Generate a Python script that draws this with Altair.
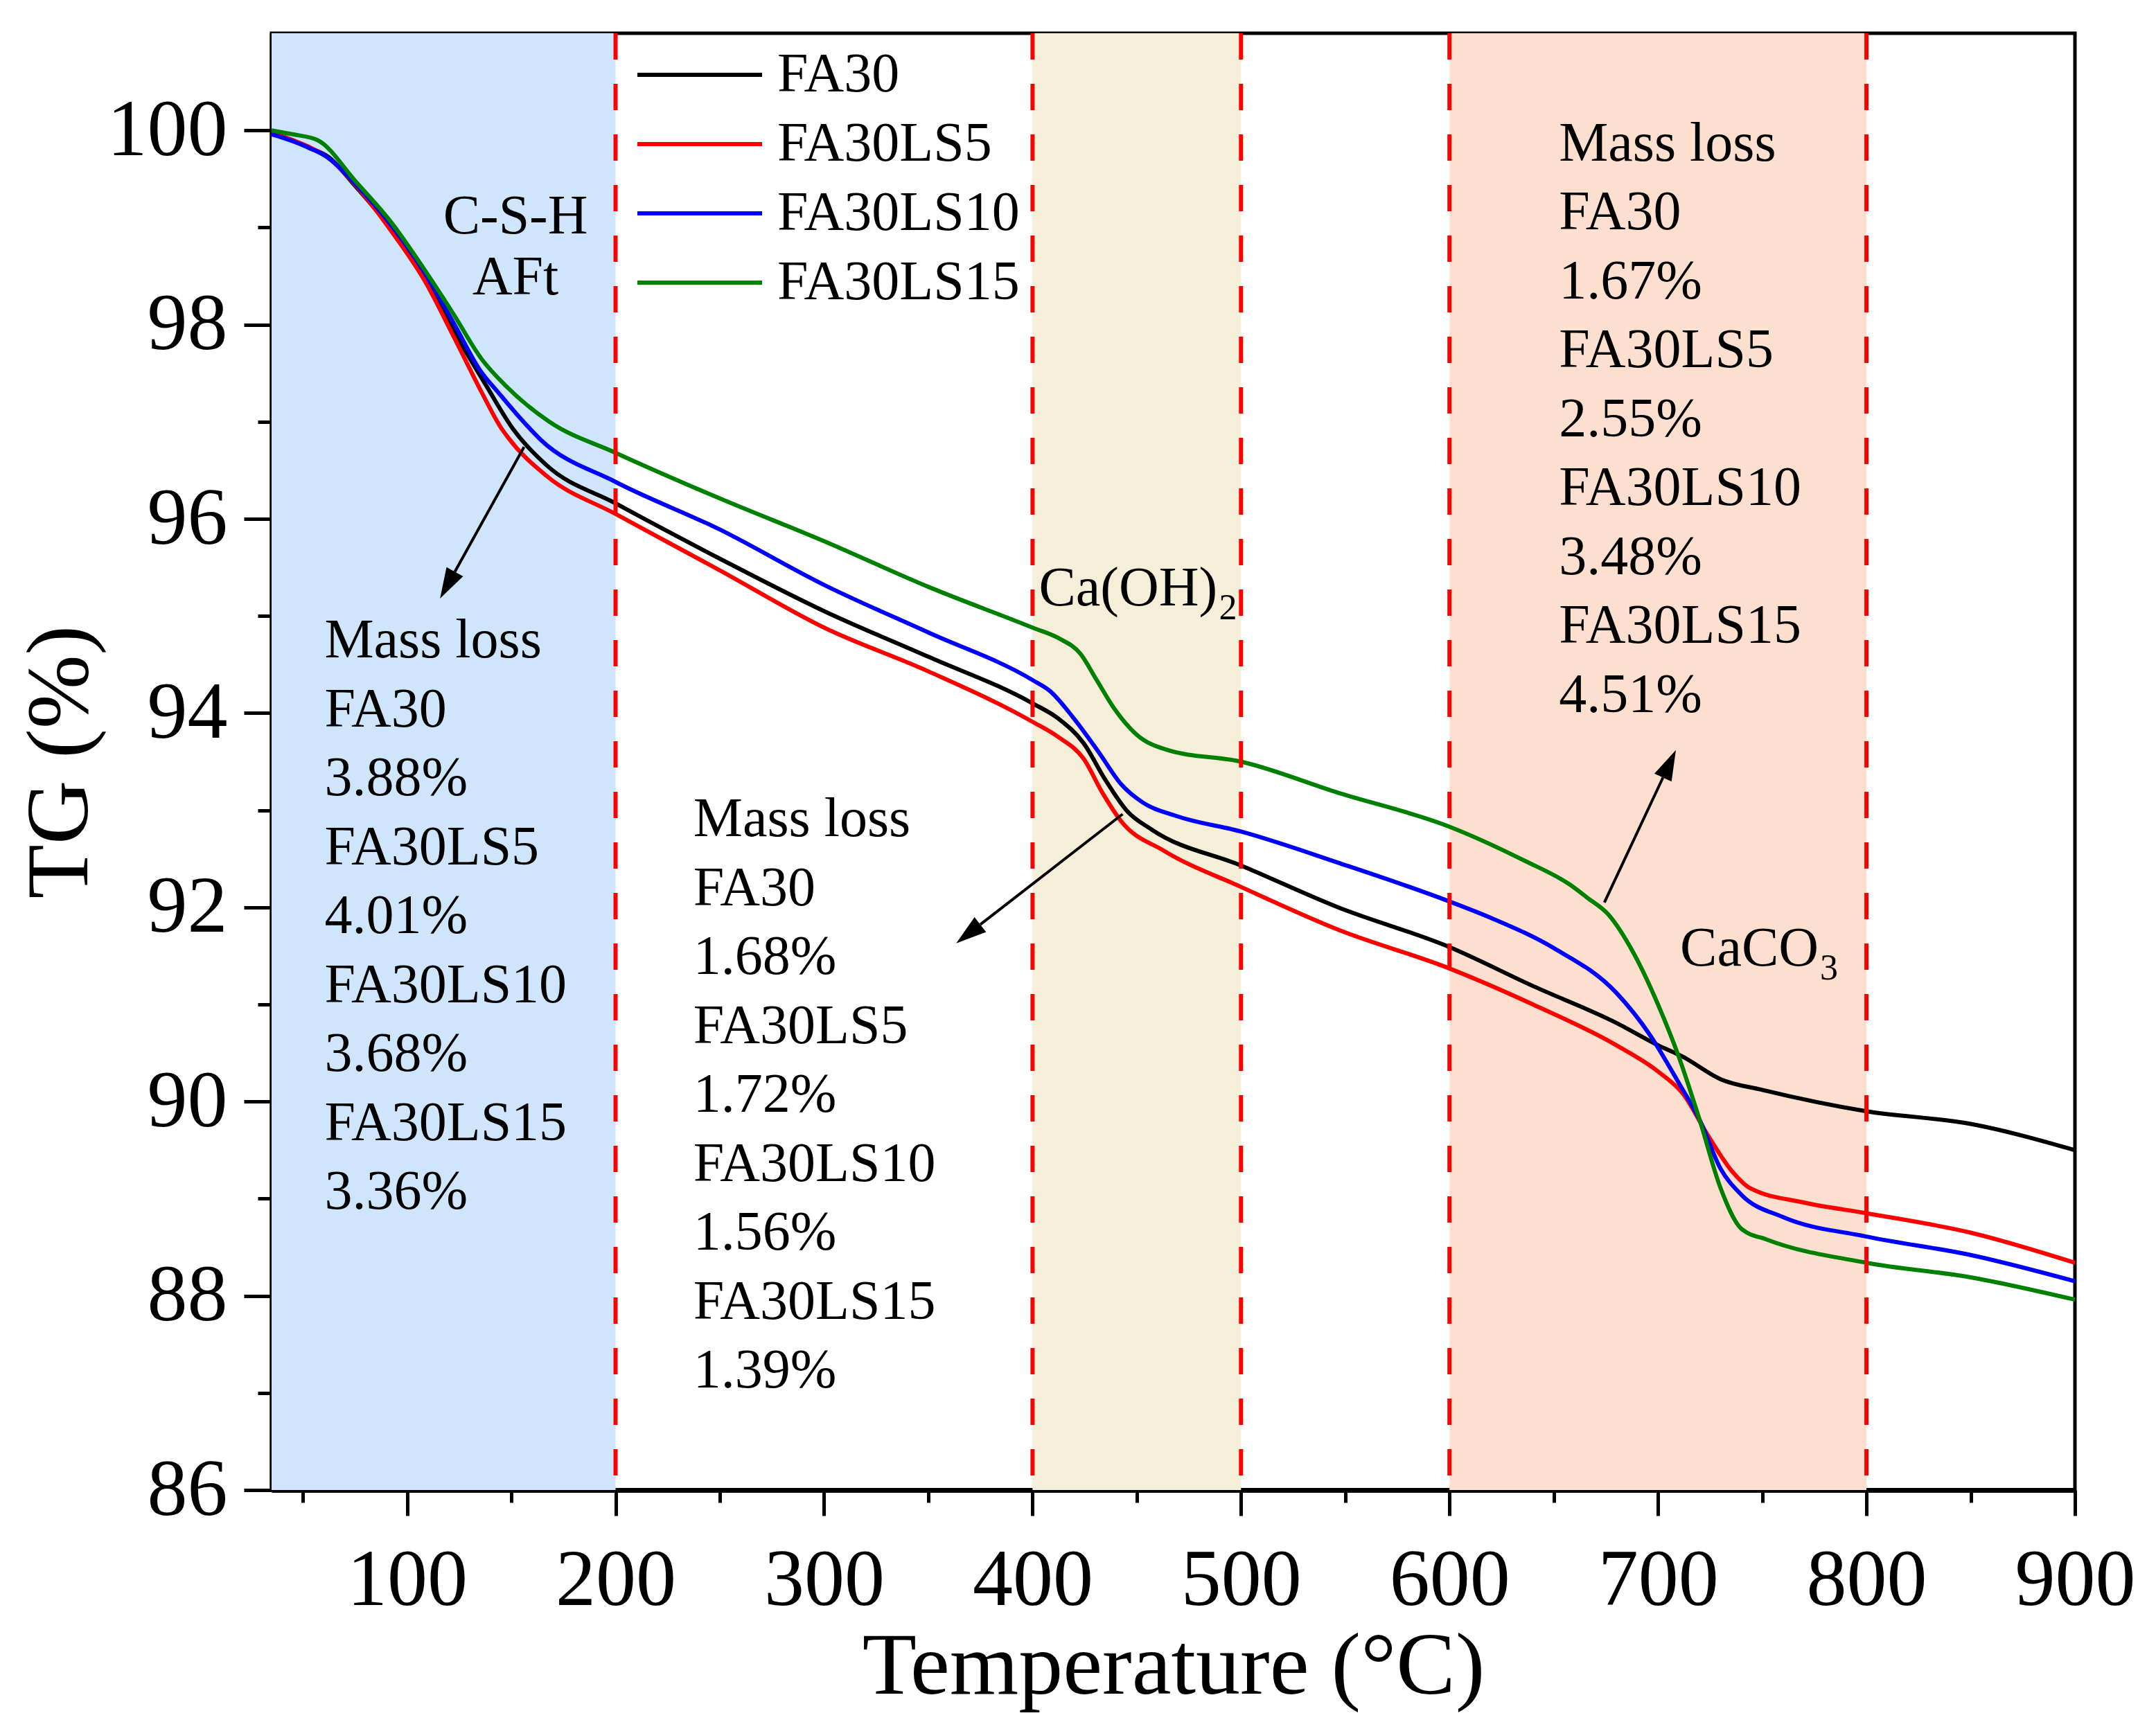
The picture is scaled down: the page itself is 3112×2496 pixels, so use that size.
import math
import altair as alt
import pandas as pd

# ---------------- data ----------------
series_names = ["FA30", "FA30LS5", "FA30LS10", "FA30LS15"]
series_colors = ["#000000", "#ff0000", "#0000ff", "#008000"]

fa30_T = [35, 45, 53, 62, 75, 92.5, 108, 122.5, 138, 151, 167, 200, 250, 300, 350, 400,
          412.6, 424.5, 435, 445.4, 457.2, 500, 546.5, 600, 640, 680, 700, 712, 730, 750, 800, 850, 900]
fa30_tg = [99.97, 99.9, 99.82, 99.73, 99.43, 98.98, 98.49, 97.93, 97.37, 96.92, 96.55, 96.16, 95.59,
           95.05, 94.58, 94.10, 93.94, 93.69, 93.31, 92.99, 92.80, 92.43, 92.0, 91.59, 91.19,
           90.81, 90.58, 90.46, 90.23, 90.12, 89.90, 89.77, 89.5]

ls5_T = [35, 45, 53, 62, 75.5, 92.5, 108.2, 122.5, 135.6, 144.7, 148.7, 167, 200, 250, 300, 350,
         400, 412.6, 424.5, 433.5, 442.4, 463.2, 500, 546.5, 600, 640, 680, 700, 712, 724, 736, 744,
         770, 800, 850, 900]
ls5_tg = [99.97, 99.9, 99.83, 99.72, 99.43, 98.96, 98.46, 97.87, 97.31, 96.95, 96.83, 96.44, 96.05,
          95.47, 94.88, 94.43, 93.91, 93.75, 93.53, 93.18, 92.89, 92.58, 92.21, 91.77, 91.37,
          91.0, 90.58, 90.31, 90.08, 89.65, 89.27, 89.11, 88.96, 88.85, 88.65, 88.34]

ls10_T = [35, 45, 53, 62, 75.5, 92.5, 108.2, 122.5, 135.6, 143.4, 151.3, 164.3, 200, 250, 300, 350,
          400, 408.2, 420, 432, 442.4, 452.8, 469, 500, 546.5, 600, 620, 650, 680, 696, 710, 720,
          730, 740, 760, 800, 850, 900]
ls10_tg = [99.96, 99.89, 99.82, 99.72, 99.44, 99.02, 98.54, 98.01, 97.51, 97.31, 97.11, 96.81, 96.38,
           95.89, 95.32, 94.83, 94.34, 94.23, 93.94, 93.59, 93.27, 93.08, 92.94, 92.78, 92.46,
           92.06, 91.89, 91.58, 91.12, 90.69, 90.19, 89.81, 89.31, 89.04, 88.81, 88.61, 88.42, 88.15]

ls15_T = [35, 45, 57, 75.5, 92.5, 108.2, 122.5, 135.6, 147.3, 168.2, 200, 250, 300, 350, 400,
          412.6, 423, 430.5, 439.4, 449.8, 464.7, 500, 546.5, 600, 636, 658, 666, 676, 688, 700, 710, 720,
          730, 740, 752, 800, 850, 900]
ls15_tg = [100.0, 99.96, 99.90, 99.47, 99.05, 98.57, 98.10, 97.65, 97.37, 97.0, 96.68, 96.21, 95.77,
           95.30, 94.88, 94.77, 94.61, 94.35, 94.04, 93.78, 93.62, 93.50, 93.18, 92.83, 92.48,
           92.23, 92.10, 91.93, 91.54, 91.0, 90.46, 89.81, 89.11, 88.69, 88.58, 88.34, 88.19, 87.96]

region_start = [35, 400, 600]
region_end = [200, 500, 800]
region_colors = ["#cfe5fc", "#f5eed8", "#fddfd0"]
boundary_T = [200, 400, 500, 600, 800]

x_tick_values = list(range(50, 901, 50))
y_tick_values = list(range(86, 101, 1))

left_block = ["Mass loss", "FA30", "3.88%", "FA30LS5", "4.01%", "FA30LS10", "3.68%", "FA30LS15", "3.36%"]
mid_block = ["Mass loss", "FA30", "1.68%", "FA30LS5", "1.72%", "FA30LS10", "1.56%", "FA30LS15", "1.39%"]
right_block = ["Mass loss", "FA30", "1.67%", "FA30LS5", "2.55%", "FA30LS10", "3.48%", "FA30LS15", "4.51%"]
block_T = [60.4, 237.3, 652.5]
block_TG = [94.57, 92.73, 99.69]

phase_labels = ["C-S-H\nAFt"]
phase_T = [152.0]
phase_TG = [98.94]
chem_main = ["Ca(OH)", "CaCO"]
chem_sub = ["2", "3"]
chem_T = [403.0, 710.6]
chem_TG = [95.11, 91.40]
chem_sub_dx = [260, 202]

arrow_tail_T = [156.1, 443.2, 674.3]
arrow_tail_TG = [96.74, 92.96, 92.05]
arrow_tip_T = [115.8, 363.4, 708.6]
arrow_tip_TG = [95.18, 91.63, 93.62]

# ---------------- layout ----------------
x_min, x_max = 35, 900
y_min, y_max = 86, 101
W, H = 2603, 2103
FONT = "Liberation Serif"

kx = W / (x_max - x_min)
ky = H / (y_max - y_min)

xscale = alt.Scale(domain=[x_min, x_max], nice=False, zero=False)
yscale = alt.Scale(domain=[y_min, y_max], nice=False, zero=False)

x_axis = alt.Axis(
    values=x_tick_values,
    labelExpr="datum.value % 100 === 0 ? datum.label : ''",
    tickSize={"condition": {"test": "datum.value % 100 === 0", "value": 37}, "value": 18},
    labelFlush=False, labelOverlap=False,
    title="Temperature (°C)",
)
y_axis = alt.Axis(
    values=y_tick_values,
    labelExpr="datum.value % 2 === 0 ? datum.label : ''",
    tickSize={"condition": {"test": "datum.value % 2 === 0", "value": 40}, "value": 20},
    labelFlush=False, labelOverlap=False,
    title="TG (%)",
)


def X(field="T"):
    return alt.X(f"{field}:Q", scale=xscale, axis=x_axis, title="Temperature (°C)")


def Y(field="TG"):
    return alt.Y(f"{field}:Q", scale=yscale, axis=y_axis, title="TG (%)")


# curves
rows = []
for name, Ts, vs in zip(series_names, [fa30_T, ls5_T, ls10_T, ls15_T], [fa30_tg, ls5_tg, ls10_tg, ls15_tg]):
    for t, v in zip(Ts, vs):
        rows.append({"series": name, "T": t, "TG": v})
df = pd.DataFrame(rows)

regions_df = pd.DataFrame({"T": region_start, "T2": region_end, "TG": [y_min] * 3, "TG2": [y_max] * 3,
                           "c": region_colors})
regions = alt.Chart(regions_df).mark_rect().encode(
    x=X(), x2="T2", y=Y(), y2="TG2", color=alt.Color("c:N", scale=None))

bounds = alt.Chart(pd.DataFrame({"T": boundary_T})).mark_rule(
    color="#ff0000", strokeWidth=6, strokeDash=[38, 35]).encode(x=X())

lines = alt.Chart(df).mark_line(strokeWidth=6, interpolate="monotone").encode(
    x=X(), y=Y(),
    color=alt.Color("series:N", sort=series_names,
                    scale=alt.Scale(domain=series_names, range=series_colors),
                    legend=alt.Legend(orient="none", legendX=578, legendY=20, title=None,
                                      symbolType="M-9,0L9,0", symbolSize=400, symbolStrokeWidth=6,
                                      labelFontSize=80, labelFont=FONT, labelColor="black",
                                      labelLimit=0, labelOffset=72, rowPadding=20, padding=0)),
    detail="series:N",
)

# arrows
head_len = 44.0
a_rows = []
for tT, tG, pT, pG in zip(arrow_tail_T, arrow_tail_TG, arrow_tip_T, arrow_tip_TG):
    dxp = (pT - tT) * kx
    dyp = -(pG - tG) * ky
    L = math.hypot(dxp, dyp)
    ux, uy = dxp / L, dyp / L
    baseT = pT - ux * head_len / kx
    baseG = pG + uy * head_len / ky
    cT = pT - ux * head_len / 2 / kx
    cG = pG + uy * head_len / 2 / ky
    ang = math.degrees(math.atan2(ux, -uy)) % 360
    a_rows.append({"T": tT, "TG": tG, "T2": baseT, "TG2": baseG, "cT": cT, "cG": cG, "ang": ang})
arrows_df = pd.DataFrame(a_rows)
arrow_lines = alt.Chart(arrows_df).mark_rule(color="black", strokeWidth=4).encode(
    x=X(), y=Y(), x2="T2", y2="TG2")
arrow_heads = alt.Chart(arrows_df).mark_point(
    shape="M0,-1L0.62,1L-0.62,1Z", filled=True, color="black", opacity=1, size=head_len ** 2).encode(
    x=X("cT"), y=Y("cG"), angle=alt.Angle("ang:Q", scale=None))

# text blocks
blocks_df = pd.DataFrame({"T": block_T, "TG": block_TG,
                          "text": ["\n".join(left_block), "\n".join(mid_block), "\n".join(right_block)]})
blocks = alt.Chart(blocks_df).mark_text(
    align="left", baseline="alphabetic", lineBreak="\n", lineHeight=99.5,
    font=FONT, fontSize=80, color="black").encode(x=X(), y=Y(), text="text:N")

phase = alt.Chart(pd.DataFrame({"T": phase_T, "TG": phase_TG, "text": phase_labels})).mark_text(
    align="center", baseline="alphabetic", lineBreak="\n", lineHeight=88,
    font=FONT, fontSize=80, color="black").encode(x=X(), y=Y(), text="text:N")

chem_df = pd.DataFrame({"T": chem_T, "TG": chem_TG, "text": chem_main})
chem = alt.Chart(chem_df).mark_text(
    align="left", baseline="alphabetic", font=FONT, fontSize=80, color="black").encode(
    x=X(), y=Y(), text="text:N")
subs = []
for t, g, s, dx in zip(chem_T, chem_TG, chem_sub, chem_sub_dx):
    subs.append(alt.Chart(pd.DataFrame({"T": [t], "TG": [g], "text": [s]})).mark_text(
        align="left", baseline="alphabetic", font=FONT, fontSize=52, color="black", dx=dx, dy=20).encode(
        x=X(), y=Y(), text="text:N"))

chart = alt.layer(regions, lines, bounds, arrow_lines, arrow_heads, blocks, phase, chem, *subs).properties(
    width=W, height=H,
    padding={"left": 15, "top": 37, "right": 0, "bottom": 22},
    background="white",
).configure_view(
    stroke="black", strokeWidth=5
).configure_axis(
    grid=False, domainColor="black", domainWidth=6, tickColor="black", tickWidth=5,
    labelFont=FONT, labelFontSize=116, labelColor="black",
    titleFont=FONT, titleFontSize=128, titleFontWeight="normal", titleColor="black",
).configure_axisX(
    labelPadding=36, titlePadding=4, domainWidth=7,
).configure_axisY(
    labelPadding=24, titlePadding=40,
)

chart.save("out.html", embed_options={"renderer": "svg", "actions": False})
